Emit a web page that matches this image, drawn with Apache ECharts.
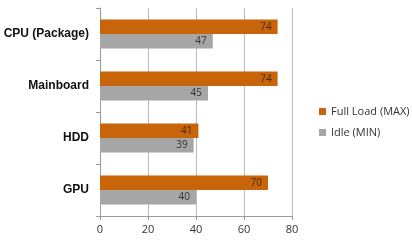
<!DOCTYPE html>
<html>
<head>
<meta charset="utf-8">
<script src="https://cdn.jsdelivr.net/npm/echarts@6/dist/echarts.min.js"></script>
<style>
  html, body { margin: 0; padding: 0; background: #fff; }
  #chart { width: 412px; height: 242px; }
</style>
</head>
<body>
<div id="chart"></div>
<script>
var categories = ['CPU (Package)', 'Mainboard', 'HDD', 'GPU'];
var fullLoad = [74, 74, 41, 70];
var idle = [47, 45, 39, 40];
var xTicks = [0, 20, 40, 60, 80];

var myChart = echarts.init(document.getElementById('chart'));
myChart.setOption({
  animation: false,
  textStyle: { fontFamily: 'DejaVu Sans' },
  legend: {
    orient: 'vertical',
    left: 314,
    top: 101,
    itemWidth: 7,
    itemHeight: 7,
    itemGap: 10,
    icon: 'rect',
    textStyle: { fontSize: 11, color: '#333', fontFamily: 'Open Sans' },
    data: ['Full Load (MAX)', 'Idle (MIN)']
  },
  grid: { left: 100, right: 120, top: 8, bottom: 26 },
  xAxis: {
    type: 'value',
    min: xTicks[0],
    max: xTicks[xTicks.length - 1],
    interval: 20,
    axisLine: { show: true, lineStyle: { color: '#999' } },
    axisTick: { show: true, length: 4, lineStyle: { color: '#999' } },
    axisLabel: { fontSize: 11, color: '#333', fontFamily: 'Open Sans', margin: 8 },
    splitLine: { show: true, lineStyle: { color: '#bbb' } }
  },
  yAxis: {
    type: 'category',
    inverse: true,
    data: categories,
    axisLine: { show: true, lineStyle: { color: '#999' } },
    axisTick: { show: true, length: 4, lineStyle: { color: '#999' } },
    axisLabel: { fontSize: 12, fontWeight: 'bold', color: '#111', margin: 11, fontFamily: 'Liberation Sans' }
  },
  series: [
    {
      name: 'Full Load (MAX)',
      type: 'bar',
      data: fullLoad,
      barGap: '0%',
      barCategoryGap: '44%',
      itemStyle: { color: '#C8640A' },
      label: { show: true, position: 'insideRight', color: '#4a2a10', fontSize: 10, fontFamily: 'Open Sans', distance: 6 }
    },
    {
      name: 'Idle (MIN)',
      type: 'bar',
      data: idle,
      barGap: '0%',
      barCategoryGap: '44%',
      itemStyle: { color: '#A6A6A6' },
      label: { show: true, position: 'insideRight', color: '#333', fontSize: 10, fontFamily: 'Open Sans', distance: 6 }
    }
  ]
});
</script>
</body>
</html>
